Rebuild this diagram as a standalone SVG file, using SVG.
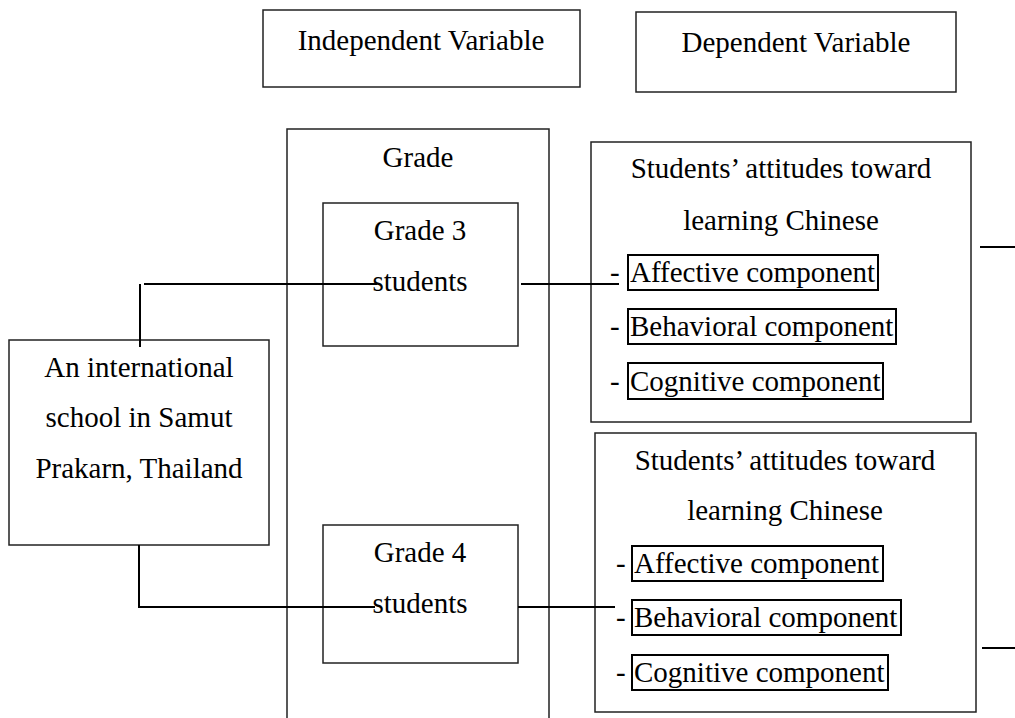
<svg xmlns="http://www.w3.org/2000/svg" width="1015" height="718" viewBox="0 0 1015 718">
  <style>
    .box { fill: #ffffff; stroke: #222222; stroke-width: 1.5; }
    .ibox { fill: none; stroke: #000000; stroke-width: 2; }
    .t { font-family: "Liberation Serif", "Times New Roman", serif; font-size: 29px; fill: #000000; }
    .c { text-anchor: middle; }
    .conn { stroke: #000000; stroke-width: 2; fill: none; }
  </style>
  <rect width="1015" height="718" fill="#ffffff"/>

  <g id="independent-header">
    <rect class="box" x="263" y="10" width="317" height="77"/>
    <text class="t c" x="421" y="50">Independent Variable</text>
  </g>
  <g id="dependent-header">
    <rect class="box" x="636" y="12" width="320" height="80"/>
    <text class="t c" x="796" y="52">Dependent Variable</text>
  </g>

  <g id="grade">
    <path class="box" d="M287,725 L287,129 L549,129 L549,725"/>
    <text class="t c" x="418" y="167">Grade</text>
  </g>

  <g id="school">
    <rect class="box" x="9" y="340" width="260" height="205"/>
    <text class="t c" x="139" y="377">An international</text>
    <text class="t c" x="139" y="427">school in Samut</text>
    <text class="t c" x="139" y="478">Prakarn, Thailand</text>
  </g>

  <g id="grade3">
    <rect class="box" x="323" y="203" width="195" height="143"/>
    <text class="t c" x="420" y="240">Grade 3</text>
    <text class="t c" x="420" y="291">students</text>
  </g>

  <g id="grade4">
    <rect class="box" x="323" y="525" width="195" height="138"/>
    <text class="t c" x="420" y="562">Grade 4</text>
    <text class="t c" x="420" y="613">students</text>
  </g>

  <g id="attitudes-grade3">
    <rect class="box" x="591" y="142" width="380" height="280"/>
    <text class="t c" x="781" y="178">Students’ attitudes toward</text>
    <text class="t c" x="781" y="230">learning Chinese</text>
    <text class="t" x="610" y="282">-</text>
    <rect class="ibox" x="628" y="255" width="250" height="35"/>
    <text class="t" x="630" y="282">Affective component</text>
    <text class="t" x="610" y="336">-</text>
    <rect class="ibox" x="628" y="309" width="268" height="35"/>
    <text class="t" x="630" y="336">Behavioral component</text>
    <text class="t" x="610" y="391">-</text>
    <rect class="ibox" x="628" y="363" width="255" height="36"/>
    <text class="t" x="630" y="391">Cognitive component</text>
  </g>

  <g id="attitudes-grade4">
    <rect class="box" x="595" y="433" width="381" height="279"/>
    <text class="t c" x="785" y="470">Students’ attitudes toward</text>
    <text class="t c" x="785" y="520">learning Chinese</text>
    <text class="t" x="616" y="573">-</text>
    <rect class="ibox" x="632" y="546" width="251" height="35"/>
    <text class="t" x="634" y="573">Affective component</text>
    <text class="t" x="616" y="627">-</text>
    <rect class="ibox" x="632" y="600" width="269" height="35"/>
    <text class="t" x="634" y="627">Behavioral component</text>
    <text class="t" x="616" y="682">-</text>
    <rect class="ibox" x="632" y="655" width="256" height="35"/>
    <text class="t" x="634" y="682">Cognitive component</text>
  </g>

  <g id="connectors">
    <line class="conn" x1="140" y1="347" x2="140" y2="284"/>
    <line class="conn" x1="144" y1="284" x2="377" y2="284"/>
    <line class="conn" x1="521" y1="284" x2="619" y2="284"/>
    <line class="conn" x1="139" y1="545" x2="139" y2="608"/>
    <line class="conn" x1="139" y1="607" x2="375" y2="607"/>
    <line class="conn" x1="518" y1="607" x2="615" y2="607"/>
    <line class="conn" x1="980" y1="247" x2="1015" y2="247"/>
    <line class="conn" x1="982" y1="648" x2="1015" y2="648"/>
  </g>
</svg>
